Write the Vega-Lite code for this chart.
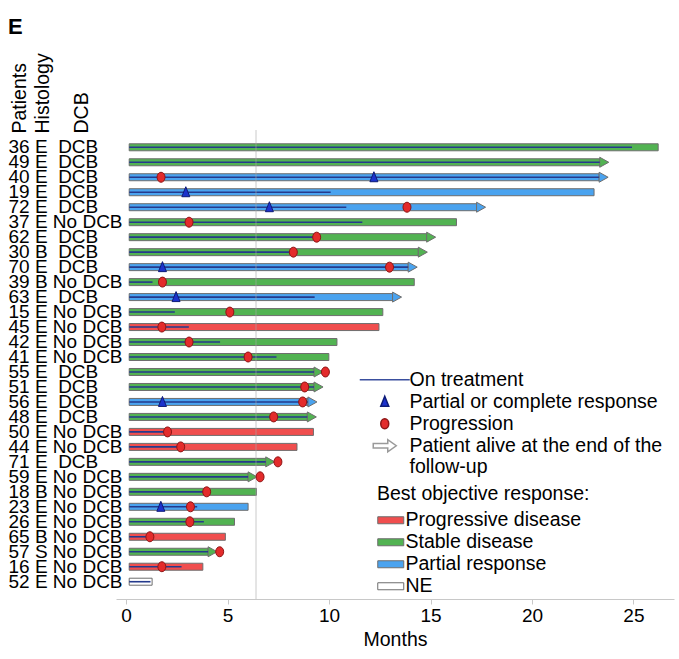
{
  "$schema": "https://vega.github.io/schema/vega-lite/v6.json",
  "width": 558,
  "height": 469,
  "autosize": {"type": "none"},
  "padding": {"left": 116, "top": 130, "right": 5, "bottom": 60},
  "background": "#ffffff",
  "title": {"text": "E", "anchor": "start", "frame": "bounds", "fontSize": 22, "fontWeight": "bold", "font": "Liberation Sans", "color": "#000000", "offset": 14},
  "config": {"view": {"stroke": null}, "font": "Liberation Sans"},
  "datasets": {
    "patients": [
      {"label": "36 E\u00a0 DCB", "start": 0.15, "end": 26.22, "alive": false, "resp": "Stable disease", "treat": 24.93},
      {"label": "49 E\u00a0 DCB", "start": 0.15, "end": 23.34, "alive": true, "resp": "Stable disease", "treat": 23.34},
      {"label": "40 E\u00a0 DCB", "start": 0.15, "end": 23.31, "alive": true, "resp": "Partial response", "treat": 23.31},
      {"label": "19 E\u00a0 DCB", "start": 0.15, "end": 23.06, "alive": false, "resp": "Partial response", "treat": 10.08},
      {"label": "72 E\u00a0 DCB", "start": 0.15, "end": 17.27, "alive": true, "resp": "Partial response", "treat": 10.85},
      {"label": "37 E No DCB", "start": 0.15, "end": 16.28, "alive": false, "resp": "Stable disease", "treat": 11.64},
      {"label": "62 E\u00a0 DCB", "start": 0.15, "end": 14.81, "alive": true, "resp": "Stable disease", "treat": 9.39},
      {"label": "30 B\u00a0 DCB", "start": 0.15, "end": 14.40, "alive": true, "resp": "Stable disease", "treat": 8.24},
      {"label": "70 E\u00a0 DCB", "start": 0.15, "end": 13.90, "alive": true, "resp": "Partial response", "treat": 13.90},
      {"label": "39 B No DCB", "start": 0.15, "end": 14.20, "alive": false, "resp": "Stable disease", "treat": 1.30},
      {"label": "63 E\u00a0 DCB", "start": 0.15, "end": 13.13, "alive": true, "resp": "Partial response", "treat": 9.29},
      {"label": "15 E No DCB", "start": 0.15, "end": 12.65, "alive": false, "resp": "Stable disease", "treat": 2.40},
      {"label": "45 E No DCB", "start": 0.15, "end": 12.46, "alive": false, "resp": "Progressive disease", "treat": 3.09},
      {"label": "42 E No DCB", "start": 0.15, "end": 10.39, "alive": false, "resp": "Stable disease", "treat": 4.63},
      {"label": "41 E No DCB", "start": 0.15, "end": 9.99, "alive": false, "resp": "Stable disease", "treat": 7.41},
      {"label": "55 E\u00a0 DCB", "start": 0.15, "end": 9.26, "alive": true, "resp": "Stable disease", "treat": 9.26},
      {"label": "51 E\u00a0 DCB", "start": 0.15, "end": 9.26, "alive": true, "resp": "Stable disease", "treat": 9.26},
      {"label": "56 E\u00a0 DCB", "start": 0.15, "end": 8.96, "alive": true, "resp": "Partial response", "treat": 8.96},
      {"label": "48 E\u00a0 DCB", "start": 0.15, "end": 8.93, "alive": true, "resp": "Stable disease", "treat": 8.93},
      {"label": "50 E No DCB", "start": 0.15, "end": 9.23, "alive": false, "resp": "Progressive disease", "treat": 2.04},
      {"label": "44 E No DCB", "start": 0.15, "end": 8.42, "alive": false, "resp": "Progressive disease", "treat": 2.69},
      {"label": "71 E\u00a0 DCB", "start": 0.15, "end": 6.88, "alive": true, "resp": "Stable disease", "treat": 6.88},
      {"label": "59 E No DCB", "start": 0.15, "end": 6.01, "alive": true, "resp": "Stable disease", "treat": 6.01},
      {"label": "18 B No DCB", "start": 0.15, "end": 6.42, "alive": false, "resp": "Stable disease", "treat": 3.97},
      {"label": "23 E No DCB", "start": 0.15, "end": 6.01, "alive": false, "resp": "Partial response", "treat": 3.50},
      {"label": "26 E No DCB", "start": 0.15, "end": 5.34, "alive": false, "resp": "Stable disease", "treat": 3.83},
      {"label": "65 B No DCB", "start": 0.15, "end": 4.89, "alive": false, "resp": "Progressive disease", "treat": 1.17},
      {"label": "57 S No DCB", "start": 0.15, "end": 4.04, "alive": true, "resp": "Stable disease", "treat": 4.04},
      {"label": "16 E No DCB", "start": 0.15, "end": 3.78, "alive": false, "resp": "Progressive disease", "treat": 2.73},
      {"label": "52 E No DCB", "start": 0.15, "end": 1.28, "alive": false, "resp": "NE", "treat": 1.20}
    ],
    "events": [
      {"label": "40 E\u00a0 DCB", "month": 1.72, "event": "Progression"},
      {"label": "40 E\u00a0 DCB", "month": 12.21, "event": "Partial or complete response"},
      {"label": "19 E\u00a0 DCB", "month": 2.94, "event": "Partial or complete response"},
      {"label": "72 E\u00a0 DCB", "month": 13.84, "event": "Progression"},
      {"label": "72 E\u00a0 DCB", "month": 7.06, "event": "Partial or complete response"},
      {"label": "37 E No DCB", "month": 3.10, "event": "Progression"},
      {"label": "62 E\u00a0 DCB", "month": 9.39, "event": "Progression"},
      {"label": "30 B\u00a0 DCB", "month": 8.24, "event": "Progression"},
      {"label": "70 E\u00a0 DCB", "month": 12.98, "event": "Progression"},
      {"label": "70 E\u00a0 DCB", "month": 1.79, "event": "Partial or complete response"},
      {"label": "39 B No DCB", "month": 1.79, "event": "Progression"},
      {"label": "63 E\u00a0 DCB", "month": 2.46, "event": "Partial or complete response"},
      {"label": "15 E No DCB", "month": 5.11, "event": "Progression"},
      {"label": "45 E No DCB", "month": 1.76, "event": "Progression"},
      {"label": "42 E No DCB", "month": 3.10, "event": "Progression"},
      {"label": "41 E No DCB", "month": 6.01, "event": "Progression"},
      {"label": "55 E\u00a0 DCB", "month": 9.82, "event": "Progression"},
      {"label": "51 E\u00a0 DCB", "month": 8.80, "event": "Progression"},
      {"label": "56 E\u00a0 DCB", "month": 1.79, "event": "Partial or complete response"},
      {"label": "56 E\u00a0 DCB", "month": 8.70, "event": "Progression"},
      {"label": "48 E\u00a0 DCB", "month": 7.27, "event": "Progression"},
      {"label": "50 E No DCB", "month": 2.04, "event": "Progression"},
      {"label": "44 E No DCB", "month": 2.69, "event": "Progression"},
      {"label": "71 E\u00a0 DCB", "month": 7.48, "event": "Progression"},
      {"label": "59 E No DCB", "month": 6.60, "event": "Progression"},
      {"label": "18 B No DCB", "month": 3.97, "event": "Progression"},
      {"label": "23 E No DCB", "month": 1.71, "event": "Partial or complete response"},
      {"label": "23 E No DCB", "month": 3.17, "event": "Progression"},
      {"label": "26 E No DCB", "month": 3.14, "event": "Progression"},
      {"label": "65 B No DCB", "month": 1.17, "event": "Progression"},
      {"label": "57 S No DCB", "month": 4.61, "event": "Progression"},
      {"label": "16 E No DCB", "month": 1.76, "event": "Progression"}
    ]
  },
  "layer": [
    {
      "data": {"name": "patients"},
      "mark": {"type": "bar", "size": 7, "stroke": "#6e6e6e", "strokeWidth": 1},
      "encoding": {
        "y": {
          "field": "label", "type": "nominal", "sort": null,
          "scale": {
            "domain": ["36 E\u00a0 DCB","49 E\u00a0 DCB","40 E\u00a0 DCB","19 E\u00a0 DCB","72 E\u00a0 DCB","37 E No DCB","62 E\u00a0 DCB","30 B\u00a0 DCB","70 E\u00a0 DCB","39 B No DCB","63 E\u00a0 DCB","15 E No DCB","45 E No DCB","42 E No DCB","41 E No DCB","55 E\u00a0 DCB","51 E\u00a0 DCB","56 E\u00a0 DCB","48 E\u00a0 DCB","50 E No DCB","44 E No DCB","71 E\u00a0 DCB","59 E No DCB","18 B No DCB","23 E No DCB","26 E No DCB","65 B No DCB","57 S No DCB","16 E No DCB","52 E No DCB"],
            "paddingInner": 0, "paddingOuter": 0.654
          },
          "axis": {
            "title": ["Patients", "\u200b", "\u200b", "Histology", "\u200b", "\u200b", "\u200b", "\u200b", "DCB"],
            "titleAngle": -90, "titleAlign": "left", "titleBaseline": "alphabetic",
            "titleLineHeight": 7.75, "titleX": -91, "titleY": 3,
            "titleFontSize": 19.5, "titleFontWeight": "normal", "titleColor": "#000000",
            "labelAlign": "left", "labelBaseline": "middle", "labelPadding": 108,
            "ticks": false, "tickSize": 0, "domain": false,
            "labelFontSize": 19, "labelColor": "#000000"
          }
        },
        "x": {
          "field": "start", "type": "quantitative",
          "scale": {"domain": [-0.5, 27], "nice": false, "zero": false},
          "axis": {
            "title": "Months", "values": [0, 5, 10, 15, 20, 25], "grid": false,
            "domainColor": "#c8c8c8", "tickColor": "#c8c8c8", "tickSize": 5,
            "labelFontSize": 19, "labelColor": "#000000", "labelPadding": 2,
            "titleFontSize": 19.5, "titleFontWeight": "normal", "titleColor": "#000000", "titlePadding": 5
          }
        },
        "x2": {"field": "end"},
        "color": {
          "field": "resp", "type": "nominal",
          "scale": {
            "domain": ["Progressive disease", "Stable disease", "Partial response", "NE"],
            "range": ["#f04e4e", "#52b352", "#4aa3ef", "#ffffff"]
          },
          "legend": {
            "title": "Best objective response:", "orient": "none", "legendX": 261, "legendY": 355,
            "titleFontSize": 19.5, "titleFontWeight": "normal", "titleColor": "#000000", "titlePadding": 6, "titleLimit": 400,
            "labelFontSize": 19.5, "labelColor": "#000000", "labelLimit": 400,
            "symbolType": "M-2.6,-0.7H2.6V0.7H-2.6Z", "symbolSize": 100, "symbolOffset": 4, "labelOffset": 5,
            "symbolStrokeColor": "#6e6e6e", "symbolStrokeWidth": 1, "symbolOpacity": 1,
            "rowPadding": 1, "padding": 0
          }
        }
      }
    },
    {
      "data": {"name": "patients"},
      "transform": [{"filter": "datum.alive"}],
      "mark": {"type": "point", "shape": "M-0.9,-1L0.9,0L-0.9,1Z", "size": 100, "filled": true, "opacity": 1, "stroke": "#6e6e6e", "strokeWidth": 1, "xOffset": 4.5},
      "encoding": {
        "x": {"field": "end", "type": "quantitative"},
        "y": {"field": "label", "type": "nominal", "sort": null},
        "color": {"field": "resp", "type": "nominal"}
      }
    },
    {
      "data": {"name": "patients"},
      "mark": {"type": "rule", "color": "#253a8c", "strokeWidth": 1.6},
      "encoding": {
        "x": {"field": "start", "type": "quantitative"},
        "x2": {"field": "treat"},
        "y": {"field": "label", "type": "nominal", "sort": null}
      }
    },
    {
      "data": {"values": [{}]},
      "mark": {"type": "rule", "color": "#a8a8a8", "strokeWidth": 1, "opacity": 0.6},
      "encoding": {"x": {"datum": 6.4}}
    },
    {
      "data": {"name": "events"},
      "mark": {"type": "point", "size": 100, "filled": true, "opacity": 1, "strokeWidth": 1},
      "encoding": {
        "x": {"field": "month", "type": "quantitative"},
        "y": {"field": "label", "type": "nominal", "sort": null},
        "shape": {
          "field": "event", "type": "nominal",
          "scale": {
            "domain": ["On treatment", "Partial or complete response", "Progression", "Patient alive at the end of the follow-up"],
            "range": ["M-5,0H5", "M0,-1.1L0.8,0.9L-0.8,0.9Z", "M-0.8,0A0.8,1,0,1,1,0.8,0A0.8,1,0,1,1,-0.8,0Z", "M-2.3,-0.45H0.6V-1.2L2.3,0L0.6,1.2V0.45H-2.3Z"]
          },
          "legend": {
            "title": null, "orient": "none", "legendX": 241, "legendY": 240,
            "labelFontSize": 19.5, "labelColor": "#000000", "labelLimit": 400,
            "symbolSize": 100, "symbolOffset": 18, "labelOffset": 15, "symbolStrokeWidth": 1.5, "symbolOpacity": 1,
            "rowPadding": 1, "padding": 0,
            "labelExpr": "datum.label == 'Patient alive at the end of the follow-up' ? ['Patient alive at the end of the', 'follow-up'] : datum.label"
          }
        },
        "fill": {
          "field": "event", "type": "nominal",
          "scale": {
            "domain": ["On treatment", "Partial or complete response", "Progression", "Patient alive at the end of the follow-up"],
            "range": ["#2b3f8f", "#1c32cc", "#e32b2b", "#ffffff"]
          },
          "legend": {
            "title": null, "orient": "none", "legendX": 241, "legendY": 240,
            "labelFontSize": 19.5, "labelColor": "#000000", "labelLimit": 400,
            "symbolSize": 100, "symbolOffset": 18, "labelOffset": 15, "symbolStrokeWidth": 1.5, "symbolOpacity": 1,
            "rowPadding": 1, "padding": 0,
            "labelExpr": "datum.label == 'Patient alive at the end of the follow-up' ? ['Patient alive at the end of the', 'follow-up'] : datum.label"
          }
        },
        "stroke": {
          "field": "event", "type": "nominal",
          "scale": {
            "domain": ["On treatment", "Partial or complete response", "Progression", "Patient alive at the end of the follow-up"],
            "range": ["#3a4f9e", "#0d1b78", "#8e1515", "#9a9a9a"]
          },
          "legend": {
            "title": null, "orient": "none", "legendX": 241, "legendY": 240,
            "labelFontSize": 19.5, "labelColor": "#000000", "labelLimit": 400,
            "symbolSize": 100, "symbolOffset": 18, "labelOffset": 15, "symbolStrokeWidth": 1.5, "symbolOpacity": 1,
            "rowPadding": 1, "padding": 0,
            "labelExpr": "datum.label == 'Patient alive at the end of the follow-up' ? ['Patient alive at the end of the', 'follow-up'] : datum.label"
          }
        }
      }
    }
  ]
}
